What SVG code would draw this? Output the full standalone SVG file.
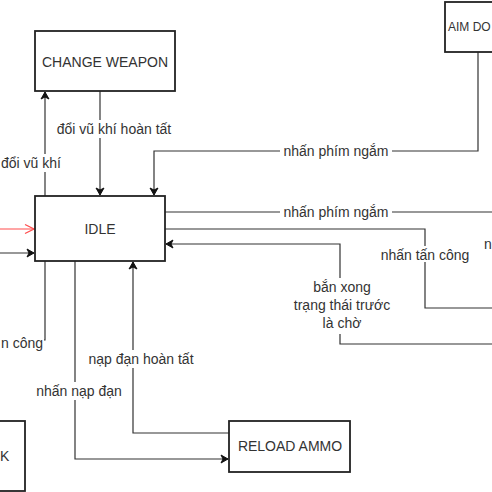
<svg xmlns="http://www.w3.org/2000/svg" width="492" height="492" viewBox="0 0 492 492">
<defs>
<marker id="arr" markerWidth="10" markerHeight="10" refX="8" refY="5" orient="auto" markerUnits="userSpaceOnUse">
<path d="M1,1 L8,5 L1,9 L3,5 Z" fill="#111" stroke="#111" stroke-width="1"/>
</marker>
<marker id="open" markerWidth="12" markerHeight="12" refX="10" refY="6" orient="auto" markerUnits="userSpaceOnUse">
<path d="M1,1.5 L10,6 L1,10.5" fill="none" stroke="#ff4d4d" stroke-width="1.3"/>
</marker>
</defs>
<style>
.box{fill:#fff;stroke:#222;stroke-width:1.8}
.t{font-family:"Liberation Sans",Arial,sans-serif;font-size:14px;fill:#333;text-anchor:middle;dominant-baseline:central}
.ln{fill:none;stroke:#333;stroke-width:1.2}
.lbg{fill:#fff}
</style>
<rect width="492" height="492" fill="#fff"/>
<g id="connectors">
<path class="ln" d="M45,196 V92" marker-end="url(#arr)"/>
<path class="ln" d="M100,91 V195" marker-end="url(#arr)"/>
<path class="ln" d="M478,52 V151 H154 V195" marker-end="url(#arr)"/>
<path class="ln" d="M165,212 H492"/>
<path class="ln" d="M165,229 H425 V308 H492"/>
<path class="ln" d="M492,344 H340 V244 H166" marker-end="url(#arr)"/>
<path fill="none" stroke="#ff4d4d" stroke-width="1.2" d="M0,229 H34" marker-end="url(#open)"/>
<path class="ln" d="M0,253 H34" marker-end="url(#arr)"/>
<path class="ln" d="M45,261 V340 H0"/>
<path class="ln" d="M75,261 V459 H228" marker-end="url(#arr)"/>
<path class="ln" d="M229,433 H133 V262" marker-end="url(#arr)"/>
</g>
<g id="labels">
<rect class="lbg" x="0" y="154" width="64" height="18"/>
<text class="t" x="31" y="163">đổi vũ khí</text>
<rect class="lbg" x="56" y="120" width="116" height="18"/>
<text class="t" x="114" y="129">đổi vũ khí hoàn tất</text>
<rect class="lbg" x="280" y="142" width="112" height="18"/>
<text class="t" x="336" y="151">nhấn phím ngắm</text>
<rect class="lbg" x="280" y="203" width="112" height="18"/>
<text class="t" x="336" y="212">nhấn phím ngắm</text>
<rect class="lbg" x="379" y="246" width="92" height="16"/>
<text class="t" x="425" y="255">nhấn tấn công</text>
<text class="t" x="484" y="244" style="text-anchor:start">n</text>
<rect class="lbg" x="290" y="278" width="104" height="56"/>
<text class="t" x="342" y="287">bắn xong</text>
<text class="t" x="342" y="305">trạng thái trước</text>
<text class="t" x="342" y="323">là chờ</text>
<rect class="lbg" x="0" y="334" width="44" height="18"/>
<text class="t" x="43" y="343" style="text-anchor:end">n công</text>
<rect class="lbg" x="84" y="350" width="113" height="18"/>
<text class="t" x="141" y="359">nạp đạn hoàn tất</text>
<rect class="lbg" x="34" y="382" width="90" height="18"/>
<text class="t" x="79" y="391">nhấn nạp đạn</text>
</g>
<g id="node-change-weapon">
<rect class="box" x="35" y="31" width="140" height="60"/>
<text class="t" x="105" y="62">CHANGE WEAPON</text>
</g>
<g id="node-idle">
<rect class="box" x="35" y="196" width="130" height="65"/>
<text class="t" x="100" y="229">IDLE</text>
</g>
<g id="node-aim">
<rect class="box" x="445" y="2" width="80" height="50"/>
<text class="t" x="448" y="27" style="text-anchor:start;font-size:12px">AIM DO</text>
</g>
<g id="node-reload">
<rect class="box" x="229" y="421" width="121" height="51"/>
<text class="t" x="290" y="446">RELOAD AMMO</text>
</g>
<g id="node-attack">
<rect class="box" x="-60" y="421" width="85" height="70"/>
<text class="t" x="0" y="456" style="text-anchor:start">K</text>
</g>
</svg>
